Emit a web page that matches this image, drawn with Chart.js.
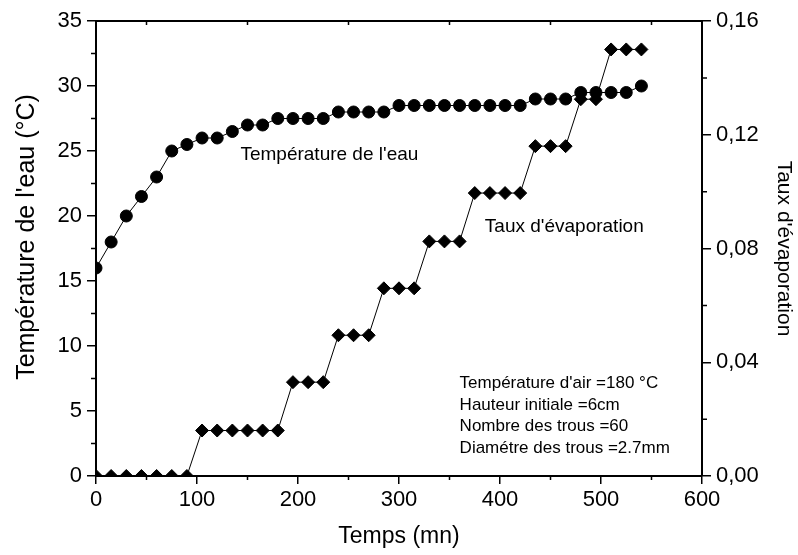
<!DOCTYPE html>
<html>
<head>
<meta charset="utf-8">
<script src="https://cdn.jsdelivr.net/npm/chart.js@4/dist/chart.umd.min.js"></script>
<style>
  html, body { margin: 0; padding: 0; background: #fff; }
  #wrap { width: 798px; height: 555px; }
</style>
</head>
<body>
<div id="wrap"><canvas id="c" width="798" height="555"></canvas></div>
<script>
// Time of each reading (mn)
const temps = [0, 15, 30, 45, 60, 75, 90, 105, 120, 135, 150, 165, 180, 195, 210, 225, 240, 255,
  270, 285, 300, 315, 330, 345, 360, 375, 390, 405, 420, 435, 450, 465, 480, 495, 510, 525, 540];

// Water temperature (°C)
const temperatureEau = [16, 18, 20, 21.5, 23, 25, 25.5, 26, 26, 26.5, 27, 27, 27.5, 27.5, 27.5, 27.5,
  28, 28, 28, 28, 28.5, 28.5, 28.5, 28.5, 28.5, 28.5, 28.5, 28.5, 28.5, 29, 29, 29, 29.5, 29.5, 29.5, 29.5, 30];

// Evaporation rate
const tauxEvaporation = [0, 0, 0, 0, 0, 0, 0,
  0.016, 0.016, 0.016, 0.016, 0.016, 0.016,
  0.033, 0.033, 0.033,
  0.0495, 0.0495, 0.0495,
  0.066, 0.066, 0.066,
  0.0825, 0.0825, 0.0825,
  0.0995, 0.0995, 0.0995, 0.0995,
  0.116, 0.116, 0.116,
  0.1325, 0.1325,
  0.15, 0.15, 0.15];

// Axis tick values
const xTicks = [0, 100, 200, 300, 400, 500, 600];
const yTicks = [0, 5, 10, 15, 20, 25, 30, 35];
const y1Ticks = [0, 0.04, 0.08, 0.12, 0.16];

// Experiment conditions printed inside the plot
const conditions = [
  "Température d'air =180 °C",
  "Hauteur initiale =6cm",
  "Nombre des trous =60",
  "Diamétre des trous =2.7mm"
];

const FONT = "'Liberation Sans', Arial, sans-serif";

// Minor ticks, the top frame line, axis titles and the in-plot labels
const decor = {
  id: 'decor',
  afterDraw(chart) {
    const ctx = chart.ctx;
    const ca = chart.chartArea;
    const sx = chart.scales.x, sy = chart.scales.y, sy1 = chart.scales.y1;
    ctx.save();
    ctx.strokeStyle = '#000';
    ctx.lineWidth = 2;
    ctx.beginPath();
    ctx.moveTo(ca.left - 1, ca.top);
    ctx.lineTo(ca.right + 1, ca.top);
    ctx.stroke();

    ctx.lineWidth = 1.5;
    ctx.beginPath();
    for (let i = 0; i < xTicks.length - 1; i++) {
      const px = sx.getPixelForValue((xTicks[i] + xTicks[i + 1]) / 2);
      ctx.moveTo(px, ca.bottom);
      ctx.lineTo(px, ca.bottom + 4);
      ctx.moveTo(px, ca.top);
      ctx.lineTo(px, ca.top + 4);
    }
    for (let i = 0; i < yTicks.length - 1; i++) {
      const py = sy.getPixelForValue((yTicks[i] + yTicks[i + 1]) / 2);
      ctx.moveTo(ca.left, py);
      ctx.lineTo(ca.left - 5, py);
    }
    for (let i = 0; i < y1Ticks.length - 1; i++) {
      const py = sy1.getPixelForValue((y1Ticks[i] + y1Ticks[i + 1]) / 2);
      ctx.moveTo(ca.right, py);
      ctx.lineTo(ca.right + 5, py);
    }
    ctx.stroke();

    ctx.fillStyle = '#000';
    ctx.textBaseline = 'middle';

    // left axis title, rotated
    ctx.save();
    ctx.translate(27, 237);
    ctx.rotate(-Math.PI / 2);
    ctx.textAlign = 'center';
    ctx.font = '25px ' + FONT;
    ctx.fillText("Température de l'eau (°C)", 0, 0);
    ctx.restore();

    // bottom axis title
    ctx.textAlign = 'center';
    ctx.font = '23px ' + FONT;
    ctx.fillText('Temps (mn)', (ca.left + ca.right) / 2, 537);

    ctx.textAlign = 'left';
    ctx.font = '19px ' + FONT;
    ctx.fillText("Température de l'eau", sx.getPixelForValue(143), sy.getPixelForValue(24.7));
    ctx.fillText("Taux d'évaporation", sx.getPixelForValue(385), sy.getPixelForValue(19.2));

    ctx.font = '17px ' + FONT;
    const lx = sx.getPixelForValue(360);
    let ly = sy.getPixelForValue(7.1);
    conditions.forEach((t) => { ctx.fillText(t, lx, ly); ly += 21.5; });
    ctx.restore();
  }
};

new Chart(document.getElementById('c'), {
  type: 'line',
  data: {
    datasets: [
      {
        label: "Température de l'eau",
        data: temps.map((t, i) => ({ x: t, y: temperatureEau[i] })),
        yAxisID: 'y',
        borderColor: '#000',
        borderWidth: 1,
        backgroundColor: '#000',
        pointStyle: 'circle',
        pointRadius: 6,
        pointBackgroundColor: '#000',
        pointBorderColor: '#000',
        tension: 0
      },
      {
        label: "Taux d'évaporation",
        data: temps.map((t, i) => ({ x: t, y: tauxEvaporation[i] })),
        yAxisID: 'y1',
        borderColor: '#000',
        borderWidth: 1,
        backgroundColor: '#000',
        pointStyle: 'rectRot',
        pointRadius: 6.5,
        pointBackgroundColor: '#000',
        pointBorderColor: '#000',
        tension: 0
      }
    ]
  },
  options: {
    responsive: false,
    animation: false,
    events: [],
    layout: { padding: { top: 21, left: 0, right: 0, bottom: 0 } },
    plugins: { legend: { display: false }, tooltip: { enabled: false } },
    scales: {
      x: {
        type: 'linear',
        position: 'bottom',
        min: 0, max: 600,
        afterBuildTicks: (s) => { s.ticks = xTicks.map(v => ({ value: v })); },
        afterFit: (s) => { s.height = 79; },
        ticks: { color: '#000', font: { family: FONT, size: 22 }, padding: 3, maxRotation: 0 },
        grid: { drawOnChartArea: false, color: '#000', tickLength: 8, lineWidth: 1.5 },
        border: { display: true, color: '#000', width: 2 },
        title: { display: false }
      },
      y: {
        type: 'linear',
        position: 'left',
        min: 0, max: 35,
        afterBuildTicks: (s) => { s.ticks = yTicks.map(v => ({ value: v })); },
        afterFit: (s) => { s.width = 96; },
        ticks: { color: '#000', font: { family: FONT, size: 22 }, padding: 5 },
        grid: { drawOnChartArea: false, color: '#000', tickLength: 9, lineWidth: 1.5 },
        border: { display: true, color: '#000', width: 2 },
        title: { display: false }
      },
      y1: {
        type: 'linear',
        position: 'right',
        min: 0, max: 0.16,
        afterBuildTicks: (s) => { s.ticks = y1Ticks.map(v => ({ value: v })); },
        afterFit: (s) => { s.width = 96; },
        ticks: { color: '#000', font: { family: FONT, size: 22 }, padding: 5,
          callback: (v) => v.toFixed(2).replace('.', ',') },
        grid: { drawOnChartArea: false, color: '#000', tickLength: 9, lineWidth: 1.5 },
        border: { display: true, color: '#000', width: 2 },
        title: { display: true, text: "Taux d'évaporation", color: '#000', font: { family: FONT, size: 21 }, padding: { top: 2, bottom: 0 } }
      }
    }
  },
  plugins: [decor]
});
</script>
</body>
</html>
